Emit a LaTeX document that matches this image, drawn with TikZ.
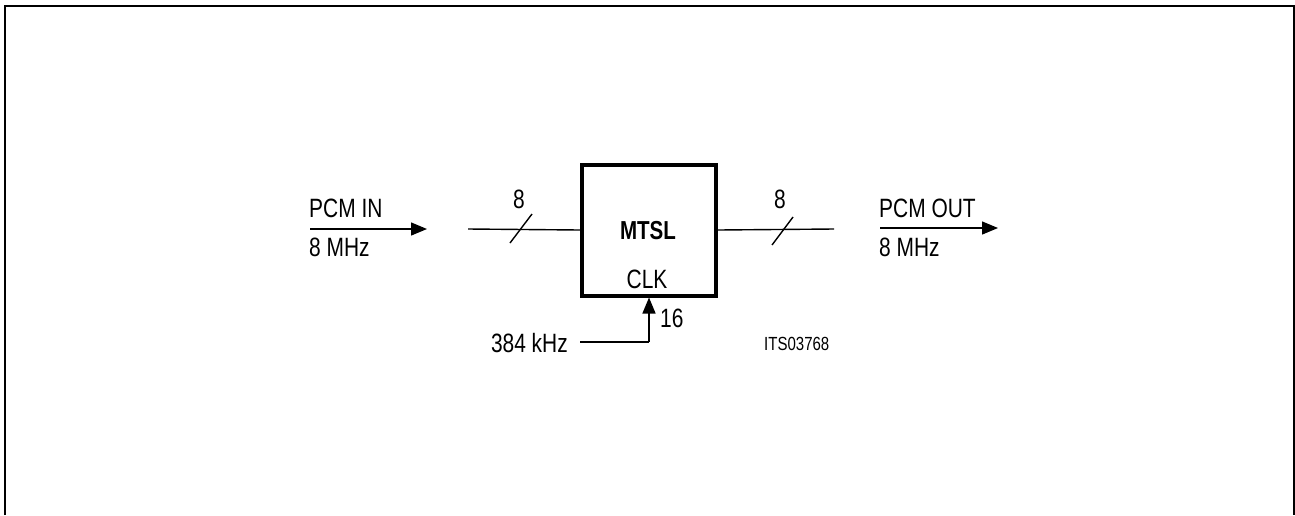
\documentclass[tikz,border=0pt]{standalone}
\usepackage{fontspec}
\setmainfont{Liberation Sans}[FakeStretch=0.79]
\usetikzlibrary{arrows.meta}
\begin{document}
\begin{tikzpicture}[x=1pt,y=-1pt,
  lbl/.style={inner sep=0pt,font=\fontsize{26.5}{29}\selectfont},
  small/.style={inner sep=0pt,font=\fontsize{19}{21}\selectfont},
  wire/.style={line width=1.4pt},
  arr/.style={wire,-{Triangle[length=16pt,width=13pt]}},
  blk/.style={draw,line width=4pt,minimum width=134pt,minimum height=131pt,inner sep=0pt}]
\useasboundingbox (0,0) rectangle (1295,515);
\draw[line width=2.6pt] (5,515) -- (5,6) -- (1294,6) -- (1294,515);
\node[blk] (mtsl) at (649,230) {};
\node[lbl,font=\bfseries\fontsize{26}{29}\selectfont] (name) at (648,231) {MTSL};
\node[lbl] (clk) at (647,279) {CLK};
% PCM IN
\coordinate (inA) at (310,229);
\coordinate (inB) at (427,229);
\draw[arr] (inA) -- (inB);
\node[lbl,anchor=base west] (pcmin) at (309,217) {PCM IN};
\node[lbl,anchor=base west] (inf) at (309,256) {8 MHz};
% left bus
\coordinate (lb) at (468,229);
\draw[wire] (lb) -- (mtsl.west);
\coordinate (ls1) at (510,243);
\coordinate (ls2) at (532,214);
\draw[wire] (ls1) -- (ls2);
\node[lbl] (n8a) at (519,199) {8};
% right bus
\coordinate (rb) at (834,229);
\draw[wire] (mtsl.east) -- (rb);
\coordinate (rs1) at (772,245);
\coordinate (rs2) at (793,217);
\draw[wire] (rs1) -- (rs2);
\node[lbl] (n8b) at (780,199) {8};
% PCM OUT
\coordinate (outA) at (880,228);
\coordinate (outB) at (998,228);
\draw[arr] (outA) -- (outB);
\node[lbl,anchor=base west] (pcmout) at (879,217) {PCM OUT};
\node[lbl,anchor=base west] (outf) at (879,256) {8 MHz};
% clock
\node[lbl,anchor=base east] (khz) at (568,352) {384 kHz};
\coordinate (ck1) at (580,342);
\coordinate (ck2) at (649,342);
\draw[wire] (ck1) -- (ck2);
\draw[arr] (ck2) -- (mtsl.south);
\node[lbl,anchor=base west] (n16) at (660,327) {16};
\node[small,anchor=base west] (its) at (764,350) {ITS03768};
\end{tikzpicture}
\end{document}
